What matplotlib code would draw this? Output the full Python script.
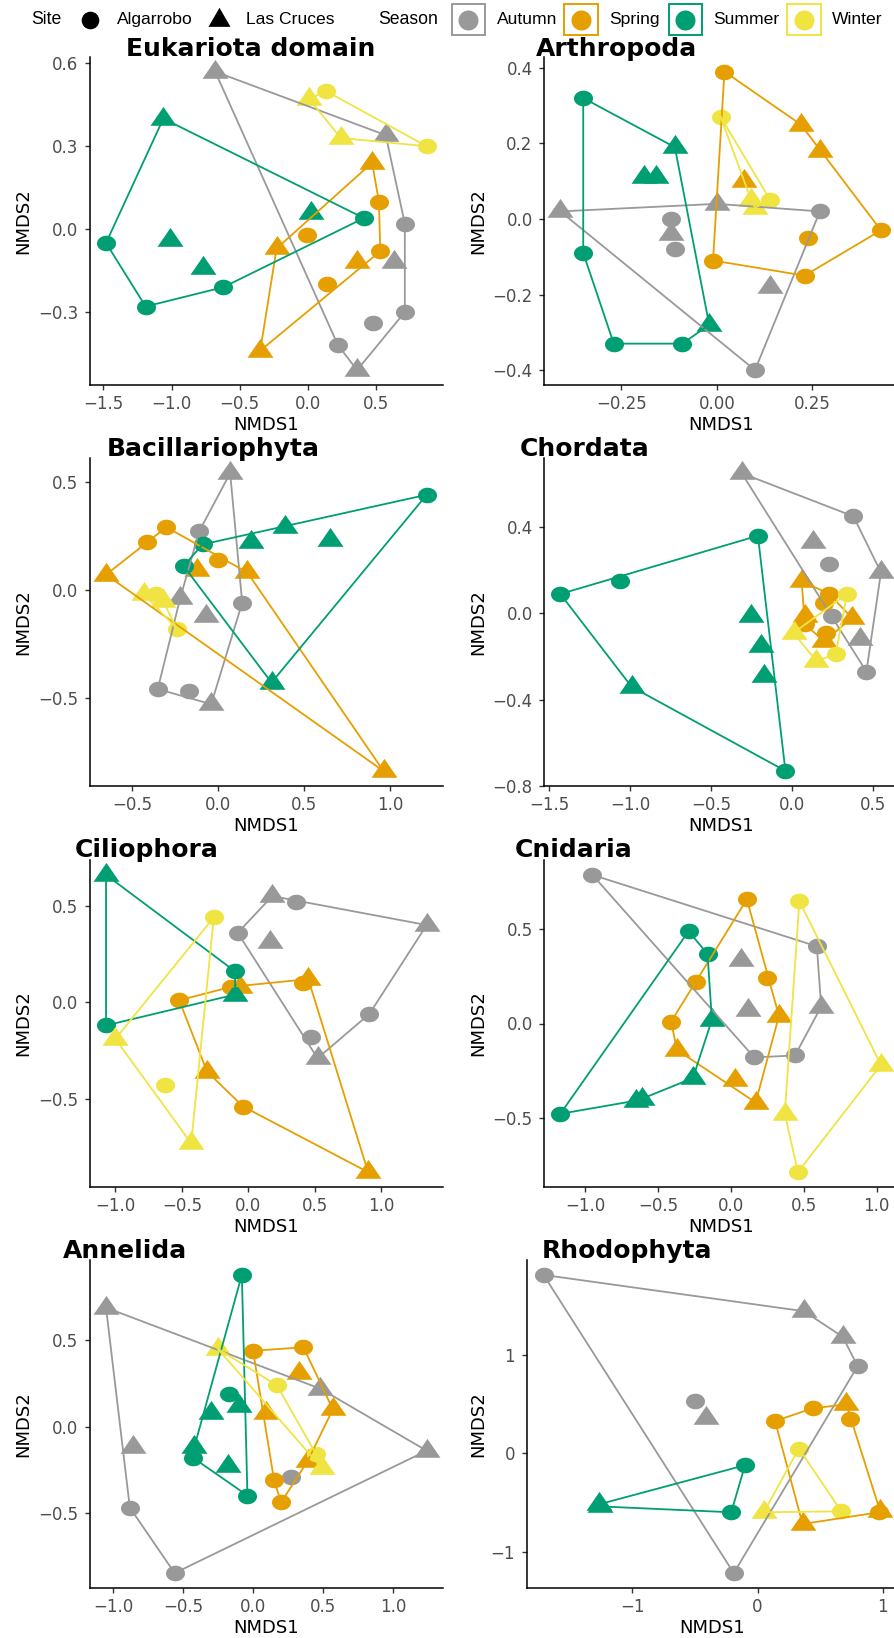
import numpy as np
import matplotlib.pyplot as plt
from matplotlib.path import Path
from matplotlib.patches import Rectangle

# NMDS scores per taxon. season: A=Autumn, S=Spring, U=Summer, W=Winter
# site: a=Algarrobo, c=Las Cruces
euk_x = [-0.68, 0.57, 0.71, 0.63, 0.71, 0.48, 0.22, 0.36,
         0.47, 0.52, -0.01, -0.23, 0.53, 0.36, 0.14, -0.35,
         -1.06, 0.02, 0.41, -1.48, -1.01, -0.77, -0.62, -1.19,
         0.13, 0.01, 0.24, 0.87]
euk_y = [0.57, 0.34, 0.02, -0.12, -0.30, -0.34, -0.42, -0.51,
         0.24, 0.10, -0.02, -0.07, -0.08, -0.12, -0.20, -0.44,
         0.40, 0.06, 0.04, -0.05, -0.04, -0.14, -0.21, -0.28,
         0.50, 0.47, 0.33, 0.30]
euk_season = "AAAAAAAASSSSSSSSUUUUUUUUWWWW"
euk_site = "ccacaaac" "caacacac" "ccaaccaa" "acca"

art_x = [-0.41, 0.00, 0.27, -0.12, -0.12, -0.11, 0.14, 0.10,
         0.02, 0.22, 0.27, 0.07, 0.43, 0.24, -0.01, 0.23,
         -0.35, -0.11, -0.19, -0.16, -0.35, -0.02, -0.27, -0.09,
         0.01, 0.14, 0.09, 0.10]
art_y = [0.02, 0.04, 0.02, 0.00, -0.04, -0.08, -0.18, -0.40,
         0.39, 0.25, 0.18, 0.10, -0.03, -0.05, -0.11, -0.15,
         0.32, 0.19, 0.11, 0.11, -0.09, -0.28, -0.33, -0.33,
         0.27, 0.05, 0.05, 0.03]
art_season = "AAAAAAAASSSSSSSSUUUUUUUUWWWW"
art_site = "ccaacaca" "acccaaaa" "acccacaa" "aacc"

bac_x = [0.07, -0.11, -0.22, 0.14, -0.07, -0.35, -0.17, -0.04,
         -0.30, -0.41, 0.00, -0.12, 0.17, -0.65, 0.96,
         1.21, 0.39, 0.19, -0.09, 0.65, -0.20, 0.31,
         -0.43, -0.36, -0.32, -0.24]
bac_y = [0.54, 0.27, -0.04, -0.06, -0.12, -0.46, -0.47, -0.53,
         0.29, 0.22, 0.14, 0.09, 0.08, 0.07, -0.84,
         0.44, 0.29, 0.22, 0.21, 0.23, 0.11, -0.43,
         -0.02, -0.02, -0.05, -0.18]
bac_season = "AAAAAAAASSSSSSSUUUUUUUWWWW"
bac_site = "cacacaac" "aaacccc" "accacac" "caca"

cho_x = [-0.31, 0.38, 0.13, 0.23, 0.55, 0.25, 0.42, 0.46,
         0.06, 0.23, 0.20, 0.08, 0.37, 0.08, 0.21, 0.20,
         -0.21, -1.06, -1.43, -0.25, -0.19, -0.17, -0.99, -0.04,
         0.34, 0.01, 0.27, 0.15]
cho_y = [0.65, 0.45, 0.33, 0.23, 0.19, -0.01, -0.12, -0.27,
         0.15, 0.09, 0.05, -0.01, -0.02, -0.05, -0.09, -0.13,
         0.36, 0.15, 0.09, -0.01, -0.15, -0.29, -0.34, -0.73,
         0.09, -0.09, -0.19, -0.22]
cho_season = "AAAAAAAASSSSSSSSUUUUUUUUWWWW"
cho_site = "cacacaca" "caaccaac" "aaacccca" "acac"

cil_x = [0.18, 0.36, 1.34, -0.08, 0.16, 0.91, 0.47, 0.52,
         0.45, 0.41, -0.13, -0.06, -0.52, -0.31, -0.04, 0.90,
         -1.07, -0.10, -0.10, -1.07,
         -0.26, -1.00, -0.63, -0.43]
cil_y = [0.55, 0.52, 0.40, 0.36, 0.31, -0.06, -0.18, -0.29,
         0.12, 0.10, 0.08, 0.08, 0.01, -0.36, -0.54, -0.88,
         0.66, 0.16, 0.04, -0.12,
         0.44, -0.19, -0.43, -0.73]
cil_season = "AAAAAAAASSSSSSSSUUUUWWWW"
cil_site = "cacacaac" "caacacac" "caca" "acac"

cni_x = [-0.95, 0.59, 0.07, 0.62, 0.12, 0.16, 0.44,
         0.11, 0.25, -0.24, -0.41, 0.33, -0.37, 0.03, 0.17,
         -0.29, -0.16, -0.13, -0.26, -0.61, -0.65, -1.17,
         0.47, 1.03, 0.37, 0.46]
cni_y = [0.79, 0.41, 0.34, 0.09, 0.07, -0.18, -0.17,
         0.66, 0.24, 0.22, 0.01, 0.04, -0.14, -0.30, -0.42,
         0.49, 0.37, 0.02, -0.29, -0.40, -0.41, -0.48,
         0.65, -0.22, -0.48, -0.79]
cni_season = "AAAAAAASSSSSSSSUUUUUUUWWWW"
cni_site = "aacccaa" "aaaacccc" "aacccca" "acca"

ann_x = [-1.05, 0.48, 1.24, -0.86, 0.27, -0.88, -0.56,
         0.36, 0.00, 0.33, 0.57, 0.09, 0.39, 0.15, 0.20,
         -0.08, -0.17, -0.10, -0.30, -0.42, -0.43, -0.18, -0.04,
         -0.25, 0.17, 0.45, 0.49]
ann_y = [0.69, 0.22, -0.14, -0.12, -0.29, -0.47, -0.85,
         0.46, 0.44, 0.31, 0.10, 0.08, -0.20, -0.31, -0.44,
         0.88, 0.19, 0.12, 0.08, -0.12, -0.18, -0.23, -0.40,
         0.45, 0.24, -0.16, -0.24]
ann_season = "AAAAAAASSSSSSSSUUUUUUUUWWWW"
ann_site = "ccccaaa" "aaccccaa" "aacccaca" "caac"

rho_x = [-1.71, 0.37, 0.68, 0.80, -0.50, -0.41, -0.19,
         0.44, 0.71, 0.14, 0.74, 0.98, 0.97, 0.36,
         -0.10, -0.21, -1.27, -1.26,
         0.33, 0.67, 0.05]
rho_y = [1.82, 1.45, 1.19, 0.89, 0.53, 0.36, -1.22,
         0.46, 0.50, 0.33, 0.35, -0.59, -0.60, -0.72,
         -0.12, -0.60, -0.52, -0.54,
         0.05, -0.59, -0.60]
rho_season = "AAAAAAASSSSSSSUUUUWWW"
rho_site = "accaaca" "acaacac" "aacc" "aac"

SEASONS = ["A", "S", "U", "W"]
SEASON_NAMES = {"A": "Autumn", "S": "Spring", "U": "Summer", "W": "Winter"}
SEASON_COLORS = {"A": "#999999", "S": "#E69F00", "U": "#009E73", "W": "#F0E442"}

# figure geometry in pixels
W, H = 895, 1638
ROWS = [(56.7, 385.0), (458.3, 786.0), (860.0, 1187.0), (1260.0, 1588.0)]

panels = [
    # title, x, y, season, site, xticks, yticks, decimals x/y, row, column, axes left px, title pos px
    ("Eukariota domain", euk_x, euk_y, euk_season, euk_site,
     [-1.5, -1.0, -0.5, 0.0, 0.5], [-0.3, 0.0, 0.3, 0.6], (1, 1), 0, 0, 90.0, (126, 56)),
    ("Arthropoda", art_x, art_y, art_season, art_site,
     [-0.25, 0.0, 0.25], [-0.4, -0.2, 0.0, 0.2, 0.4], (2, 1), 0, 1, 544.3, (536, 56)),
    ("Bacillariophyta", bac_x, bac_y, bac_season, bac_site,
     [-0.5, 0.0, 0.5, 1.0], [-0.5, 0.0, 0.5], (1, 1), 1, 0, 90.0, (107, 456)),
    ("Chordata", cho_x, cho_y, cho_season, cho_site,
     [-1.5, -1.0, -0.5, 0.0, 0.5], [-0.8, -0.4, 0.0, 0.4], (1, 1), 1, 1, 544.3, (520, 456)),
    ("Ciliophora", cil_x, cil_y, cil_season, cil_site,
     [-1.0, -0.5, 0.0, 0.5, 1.0], [-0.5, 0.0, 0.5], (1, 1), 2, 0, 90.0, (75, 857)),
    ("Cnidaria", cni_x, cni_y, cni_season, cni_site,
     [-1.0, -0.5, 0.0, 0.5, 1.0], [-0.5, 0.0, 0.5], (1, 1), 2, 1, 544.3, (515, 857)),
    ("Annelida", ann_x, ann_y, ann_season, ann_site,
     [-1.0, -0.5, 0.0, 0.5, 1.0], [-0.5, 0.0, 0.5], (1, 1), 3, 0, 90.0, (63, 1258)),
    ("Rhodophyta", rho_x, rho_y, rho_season, rho_site,
     [-1, 0, 1], [-1, 0, 1], (0, 0), 3, 1, 526.7, (542, 1258)),
]
COL_RIGHT = [442.7, 897.0]
YLABEL_X = [32.0, 487.0]

# ggplot-like markers, slightly wider than tall in the panels
t = np.linspace(0, 2 * np.pi, 60)
CIRCLE = Path(np.column_stack([1.22 * np.cos(t), np.sin(t)]), closed=True)
TRIANGLE = Path([(0, 1.555), (1.603, -0.7776), (-1.603, -0.7776), (0, 1.555)], closed=True)
SITE_MARKERS = {"a": (CIRCLE, 13.7), "c": (TRIANGLE, 18.7)}
# legend keys are drawn round / equilateral
KEY_TRIANGLE = Path([(0, 1.555), (1.3468, -0.7776), (-1.3468, -0.7776), (0, 1.555)], closed=True)
KEY_MARKERS = {"a": ("o", 12.7), "c": (KEY_TRIANGLE, 18.3)}


def convex_hull(points):
    pts = sorted(set(points))
    if len(pts) < 3:
        return pts

    def cross(o, a, b):
        return (a[0] - o[0]) * (b[1] - o[1]) - (a[1] - o[1]) * (b[0] - o[0])

    lower, upper = [], []
    for p in pts:
        while len(lower) >= 2 and cross(lower[-2], lower[-1], p) <= 0:
            lower.pop()
        lower.append(p)
    for p in reversed(pts):
        while len(upper) >= 2 and cross(upper[-2], upper[-1], p) <= 0:
            upper.pop()
        upper.append(p)
    return lower[:-1] + upper[:-1]


def fmt(v, d):
    return f"{v:.{d}f}".replace("-", "\u2212")


fig = plt.figure(figsize=(W / 100, H / 100), dpi=100)

for (title, xs, ys, season, site, xticks, yticks, dec, row, col, left, tpos) in panels:
    top, bottom = ROWS[row]
    right = COL_RIGHT[col]
    ax = fig.add_axes([left / W, 1 - bottom / H, (right - left) / W, (bottom - top) / H])
    xs = np.asarray(xs)
    ys = np.asarray(ys)
    for s in SEASONS:
        color = SEASON_COLORS[s]
        for code, (marker, ms) in SITE_MARKERS.items():
            idx = [i for i in range(len(xs)) if season[i] == s and site[i] == code]
            if idx:
                ax.plot(xs[idx], ys[idx], linestyle="none", marker=marker,
                        markersize=ms, color=color, markeredgewidth=0, zorder=2)
    for s in SEASONS:
        pts = [(xs[i], ys[i]) for i in range(len(xs)) if season[i] == s]
        hull = convex_hull(pts)
        hull = hull + hull[:1]
        ax.plot([p[0] for p in hull], [p[1] for p in hull],
                color=SEASON_COLORS[s], linewidth=1.3, zorder=3)

    ax.margins(0.05)
    ax.set_xticks(xticks)
    ax.set_xticklabels([fmt(v, dec[0]) for v in xticks])
    ax.set_yticks(yticks)
    ax.set_yticklabels([fmt(v, dec[1]) for v in yticks])
    ax.tick_params(axis="both", labelsize=12, labelcolor="#4D4D4D", color="#333333",
                   length=3.6, width=1.0)
    ax.tick_params(axis="x", pad=3.5)
    ax.tick_params(axis="y", pad=4.8)
    for side in ("top", "right"):
        ax.spines[side].set_visible(False)
    for side in ("left", "bottom"):
        ax.spines[side].set_linewidth(1.1)
        ax.spines[side].set_color("black")

    ax.set_xlabel("NMDS1", fontsize=13, labelpad=2)
    ax.set_ylabel("NMDS2", fontsize=13)
    ax.yaxis.set_label_coords(YLABEL_X[col] / W, 1 - (top + bottom) / 2 / H,
                              transform=fig.transFigure)

    fig.text(tpos[0] / W, 1 - tpos[1] / H, title, fontsize=18, fontweight="bold",
             ha="left", va="baseline")

# legend strip at the top
lax = fig.add_axes([0, 1 - 42 / H, 1, 42 / H])
lax.set_xlim(0, W)
lax.set_ylim(42, 0)
lax.axis("off")
yc = 19.5
legend_font = dict(family=["Liberation Sans", "DejaVu Sans"], va="center", ha="left")
lax.text(31, yc, "Site", fontsize=12.7, **legend_font)
site_keys = [("a", "Algarrobo", 90.5, 117), ("c", "Las Cruces", 219, 246)]
for code, label, kx, tx in site_keys:
    marker, ms = KEY_MARKERS[code]
    lax.plot([kx], [yc], linestyle="none", marker=marker, markersize=ms,
             color="black", markeredgewidth=0)
    lax.text(tx, yc, label, fontsize=12.6, **legend_font)
lax.text(378, yc, "Season", fontsize=12.7, **legend_font)
season_keys = [("A", 468.5, 497), ("S", 581, 609), ("U", 685.5, 713), ("W", 804, 832)]
for s, kx, tx in season_keys:
    lax.add_patch(Rectangle((kx - 16.7, yc - 15.5), 33.4, 31, facecolor="white",
                            edgecolor=SEASON_COLORS[s], linewidth=1.4))
    lax.plot([kx], [yc], linestyle="none", marker="o", markersize=14.4,
             color=SEASON_COLORS[s], markeredgewidth=0)
    lax.text(tx, yc, SEASON_NAMES[s], fontsize=12.6, **legend_font)

fig.savefig("out.png", dpi=100)
